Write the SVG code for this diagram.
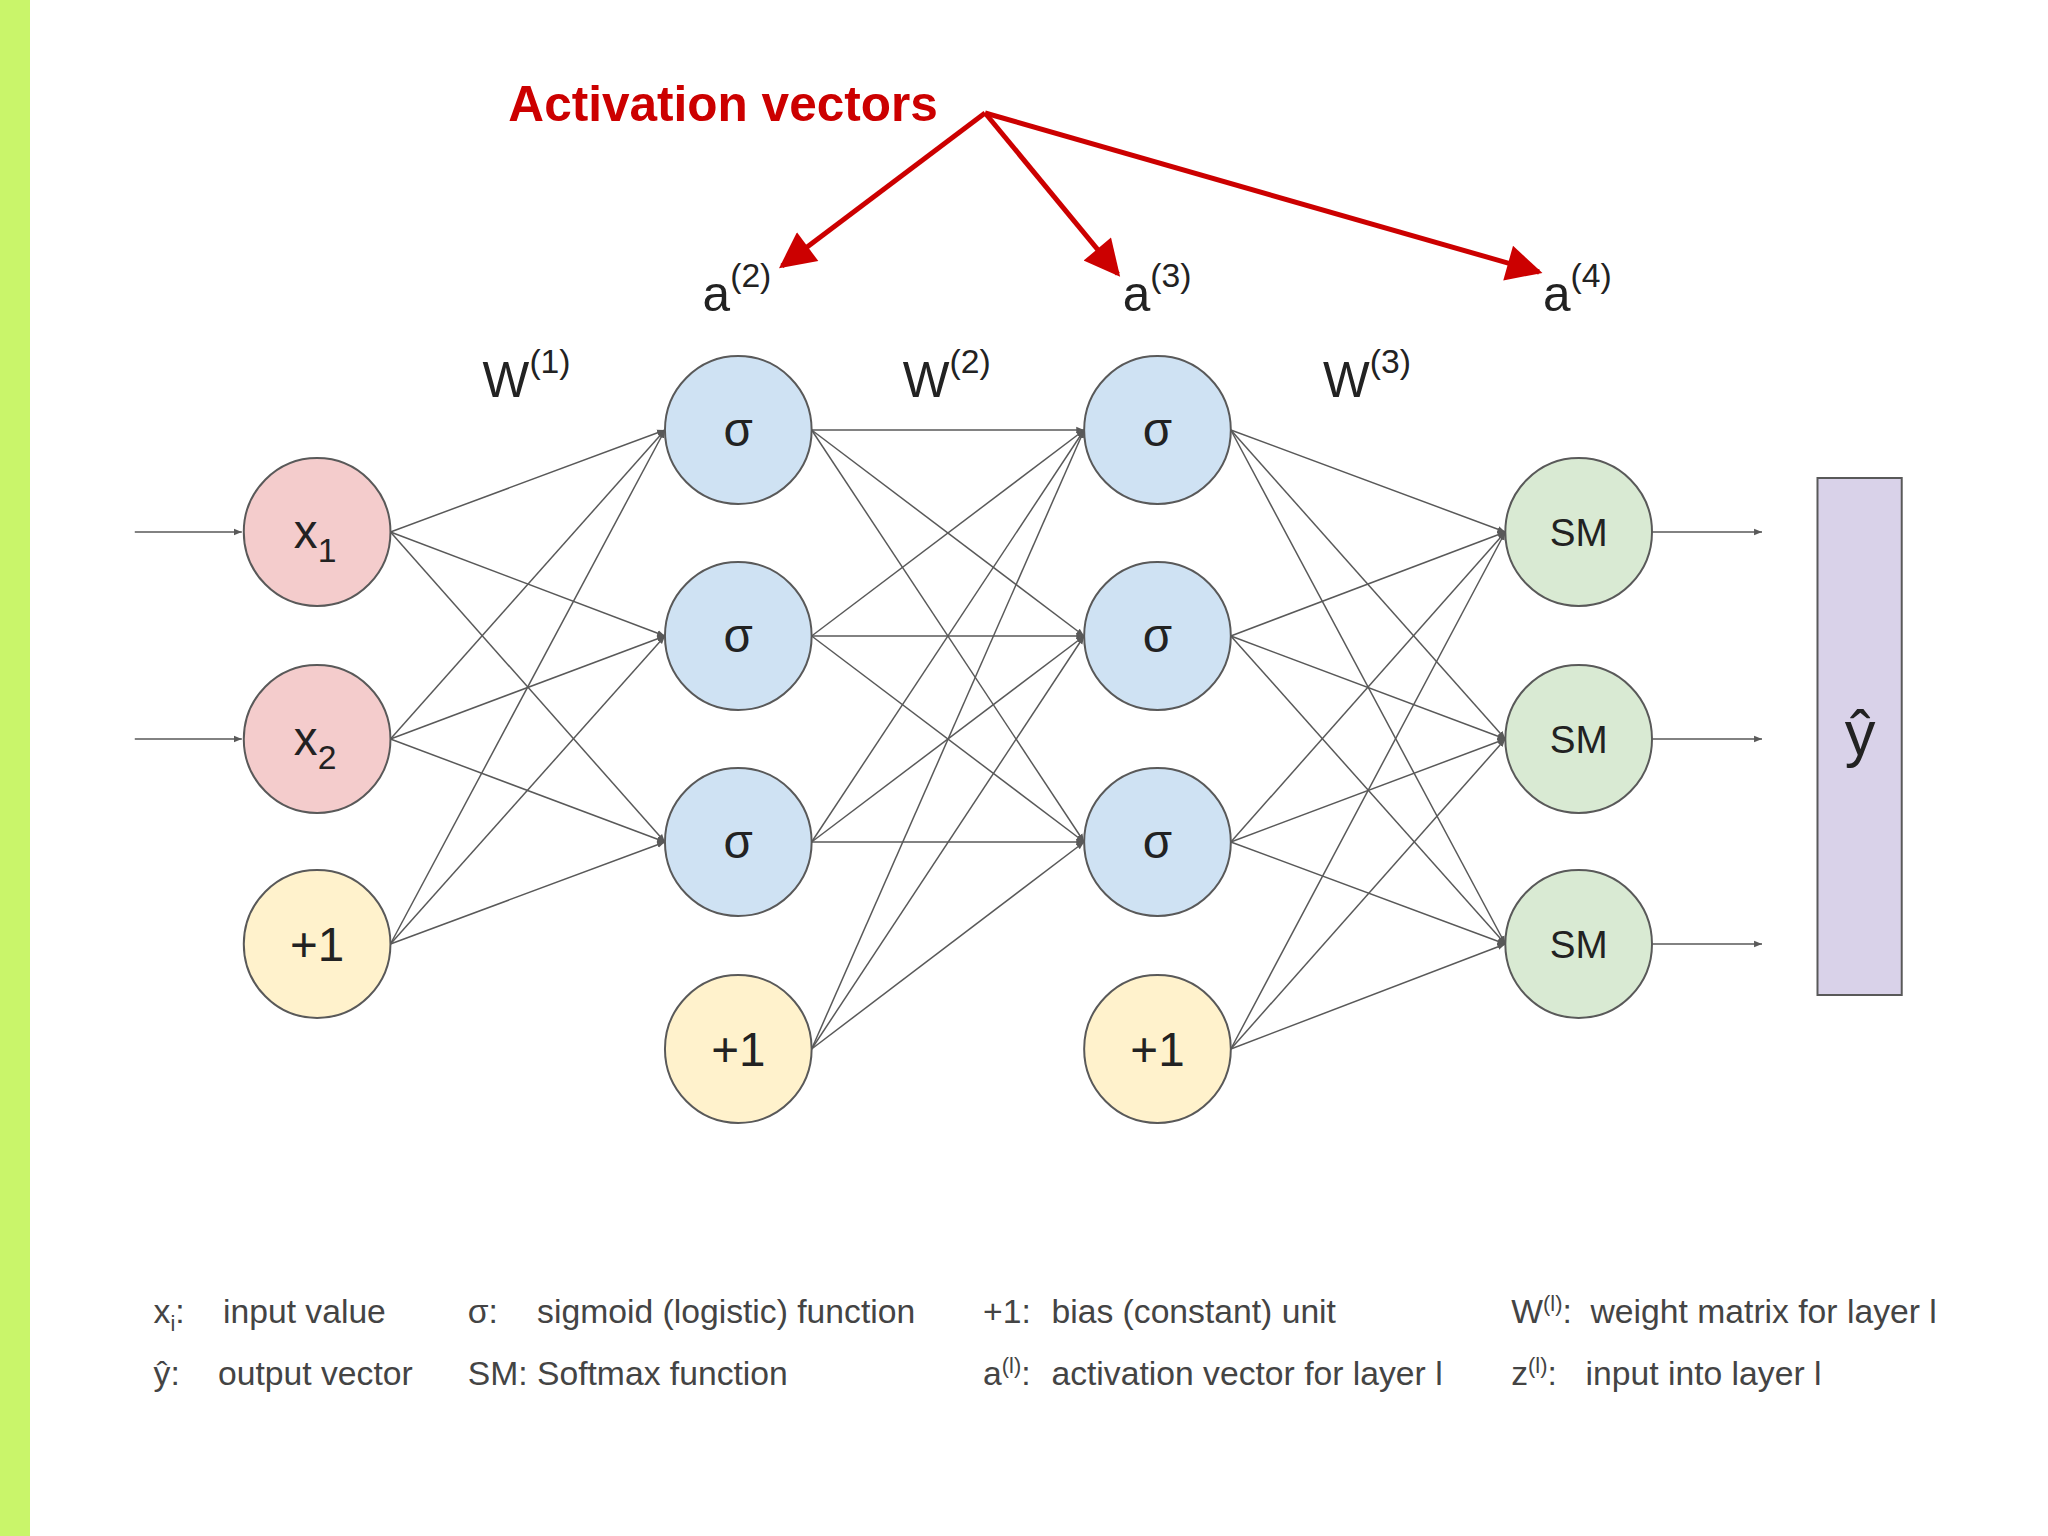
<svg xmlns="http://www.w3.org/2000/svg" width="2048" height="1536" viewBox="0 0 2048 1536">
<style>
.n{stroke:#595959;stroke-width:2}
.t{font-family:"Liberation Sans",Arial,sans-serif;fill:#222;text-anchor:middle}
.e line{stroke:#595959;stroke-width:1.5;marker-end:url(#ah)}
.lg{font-family:"Liberation Sans",Arial,sans-serif;fill:#444;font-size:34px}
.lb{font-family:"Liberation Sans",Arial,sans-serif;fill:#222;font-size:50px}
.r line{stroke:#cc0000;stroke-width:5;marker-end:url(#rh)}
</style>
<defs>
<marker id="ah" viewBox="0 0 10 10" refX="10" refY="5" markerWidth="8" markerHeight="8" markerUnits="userSpaceOnUse" orient="auto"><path d="M0,1 L10,5 L0,9 z" fill="#595959"/></marker>
<marker id="ah2" viewBox="0 0 10 10" refX="10" refY="5" markerWidth="12" markerHeight="12" markerUnits="userSpaceOnUse" orient="auto"><path d="M0,1 L10,5 L0,9 z" fill="#595959"/></marker>
<marker id="rh" viewBox="0 0 10 10" refX="9" refY="5" markerWidth="40" markerHeight="36" markerUnits="userSpaceOnUse" orient="auto"><path d="M0,0 L10,5 L0,10 z" fill="#cc0000"/></marker>
</defs>
<rect width="2048" height="1536" fill="#fff"/>
<rect x="0" y="0" width="30" height="1536" fill="#c9f56a"/>
<g transform="scale(0.991,1)">
<g id="edges" class="e">
<line x1="136" y1="532" x2="244" y2="532" marker-end="url(#ah2)"/>
<line x1="136" y1="739" x2="244" y2="739" marker-end="url(#ah2)"/>
<line x1="394" y1="532" x2="671" y2="430"/><line x1="394" y1="532" x2="671" y2="636"/><line x1="394" y1="532" x2="671" y2="842"/>
<line x1="394" y1="739" x2="671" y2="430"/><line x1="394" y1="739" x2="671" y2="636"/><line x1="394" y1="739" x2="671" y2="842"/>
<line x1="394" y1="944" x2="671" y2="430"/><line x1="394" y1="944" x2="671" y2="636"/><line x1="394" y1="944" x2="671" y2="842"/>
<line x1="819" y1="430" x2="1094" y2="430"/><line x1="819" y1="430" x2="1094" y2="636"/><line x1="819" y1="430" x2="1094" y2="842"/>
<line x1="819" y1="636" x2="1094" y2="430"/><line x1="819" y1="636" x2="1094" y2="636"/><line x1="819" y1="636" x2="1094" y2="842"/>
<line x1="819" y1="842" x2="1094" y2="430"/><line x1="819" y1="842" x2="1094" y2="636"/><line x1="819" y1="842" x2="1094" y2="842"/>
<line x1="819" y1="1049" x2="1094" y2="430"/><line x1="819" y1="1049" x2="1094" y2="636"/><line x1="819" y1="1049" x2="1094" y2="842"/>
<line x1="1242" y1="430" x2="1519" y2="532"/><line x1="1242" y1="430" x2="1519" y2="739"/><line x1="1242" y1="430" x2="1519" y2="944"/>
<line x1="1242" y1="636" x2="1519" y2="532"/><line x1="1242" y1="636" x2="1519" y2="739"/><line x1="1242" y1="636" x2="1519" y2="944"/>
<line x1="1242" y1="842" x2="1519" y2="532"/><line x1="1242" y1="842" x2="1519" y2="739"/><line x1="1242" y1="842" x2="1519" y2="944"/>
<line x1="1242" y1="1049" x2="1519" y2="532"/><line x1="1242" y1="1049" x2="1519" y2="739"/><line x1="1242" y1="1049" x2="1519" y2="944"/>
<line x1="1667" y1="532" x2="1778" y2="532" marker-end="url(#ah2)"/>
<line x1="1667" y1="739" x2="1778" y2="739" marker-end="url(#ah2)"/>
<line x1="1667" y1="944" x2="1778" y2="944" marker-end="url(#ah2)"/>
</g>

<g id="x1"><circle class="n" cx="320" cy="532" r="74" fill="#f4cccc"/><text class="t" x="318" y="548" font-size="48">x<tspan font-size="34" dy="14">1</tspan></text></g>
<g id="x2"><circle class="n" cx="320" cy="739" r="74" fill="#f4cccc"/><text class="t" x="318" y="755" font-size="48">x<tspan font-size="34" dy="14">2</tspan></text></g>
<g id="b1"><circle class="n" cx="320" cy="944" r="74" fill="#fff2cc"/><text class="t" x="320" y="961" font-size="48">+1</text></g>

<g id="h21"><circle class="n" cx="745" cy="430" r="74" fill="#cfe2f3"/><text class="t" x="745" y="446" font-size="48">σ</text></g>
<g id="h22"><circle class="n" cx="745" cy="636" r="74" fill="#cfe2f3"/><text class="t" x="745" y="652" font-size="48">σ</text></g>
<g id="h23"><circle class="n" cx="745" cy="842" r="74" fill="#cfe2f3"/><text class="t" x="745" y="858" font-size="48">σ</text></g>
<g id="b2"><circle class="n" cx="745" cy="1049" r="74" fill="#fff2cc"/><text class="t" x="745" y="1066" font-size="48">+1</text></g>

<g id="h31"><circle class="n" cx="1168" cy="430" r="74" fill="#cfe2f3"/><text class="t" x="1168" y="446" font-size="48">σ</text></g>
<g id="h32"><circle class="n" cx="1168" cy="636" r="74" fill="#cfe2f3"/><text class="t" x="1168" y="652" font-size="48">σ</text></g>
<g id="h33"><circle class="n" cx="1168" cy="842" r="74" fill="#cfe2f3"/><text class="t" x="1168" y="858" font-size="48">σ</text></g>
<g id="b3"><circle class="n" cx="1168" cy="1049" r="74" fill="#fff2cc"/><text class="t" x="1168" y="1066" font-size="48">+1</text></g>

<g id="sm1"><circle class="n" cx="1593" cy="532" r="74" fill="#d9ead3"/><text class="t" x="1593" y="546" font-size="39">SM</text></g>
<g id="sm2"><circle class="n" cx="1593" cy="739" r="74" fill="#d9ead3"/><text class="t" x="1593" y="753" font-size="39">SM</text></g>
<g id="sm3"><circle class="n" cx="1593" cy="944" r="74" fill="#d9ead3"/><text class="t" x="1593" y="958" font-size="39">SM</text></g>

<g id="yhat"><rect class="n" x="1834" y="478" width="85" height="517" fill="#d9d2e9"/><text class="t" x="1877" y="755" font-size="62">ŷ</text></g>

<g id="labels">
<text class="lb" x="709" y="311">a<tspan font-size="34" dy="-24">(2)</tspan></text>
<text class="lb" x="1133" y="311">a<tspan font-size="34" dy="-24">(3)</tspan></text>
<text class="lb" x="1557" y="311">a<tspan font-size="34" dy="-24">(4)</tspan></text>
<text class="lb" x="487" y="397">W<tspan font-size="34" dy="-24">(1)</tspan></text>
<text class="lb" x="911" y="397">W<tspan font-size="34" dy="-24">(2)</tspan></text>
<text class="lb" x="1335" y="397">W<tspan font-size="34" dy="-24">(3)</tspan></text>
</g>

<g id="activation">
<text x="513" y="121" font-family="Liberation Sans,Arial,sans-serif" font-weight="bold" font-size="50" fill="#cc0000">Activation vectors</text>
<g class="r">
<line x1="994" y1="113" x2="789" y2="266"/>
<line x1="994" y1="113" x2="1128" y2="274"/>
<line x1="994" y1="113" x2="1553" y2="272"/>
</g>
</g>

<g id="legend" class="lg">
<text x="155" y="1323">x<tspan font-size="22" dy="8">i</tspan><tspan dy="-8">:</tspan></text>
<text x="225" y="1323">input value</text>
<text x="472" y="1323">σ:</text>
<text x="542" y="1323">sigmoid (logistic) function</text>
<text x="992" y="1323">+1:</text>
<text x="1061" y="1323">bias (constant) unit</text>
<text x="1525" y="1323">W<tspan font-size="22" dy="-12">(l)</tspan><tspan dy="12">:</tspan></text>
<text x="1605" y="1323">weight matrix for layer l</text>
<text x="155" y="1385">ŷ:</text>
<text x="220" y="1385">output vector</text>
<text x="472" y="1385">SM: Softmax function</text>
<text x="992" y="1385">a<tspan font-size="22" dy="-12">(l)</tspan><tspan dy="12">:</tspan></text>
<text x="1061" y="1385">activation vector for layer l</text>
<text x="1525" y="1385">z<tspan font-size="22" dy="-12">(l)</tspan><tspan dy="12">:</tspan></text>
<text x="1600" y="1385">input into layer l</text>
</g>
</g>
</svg>
